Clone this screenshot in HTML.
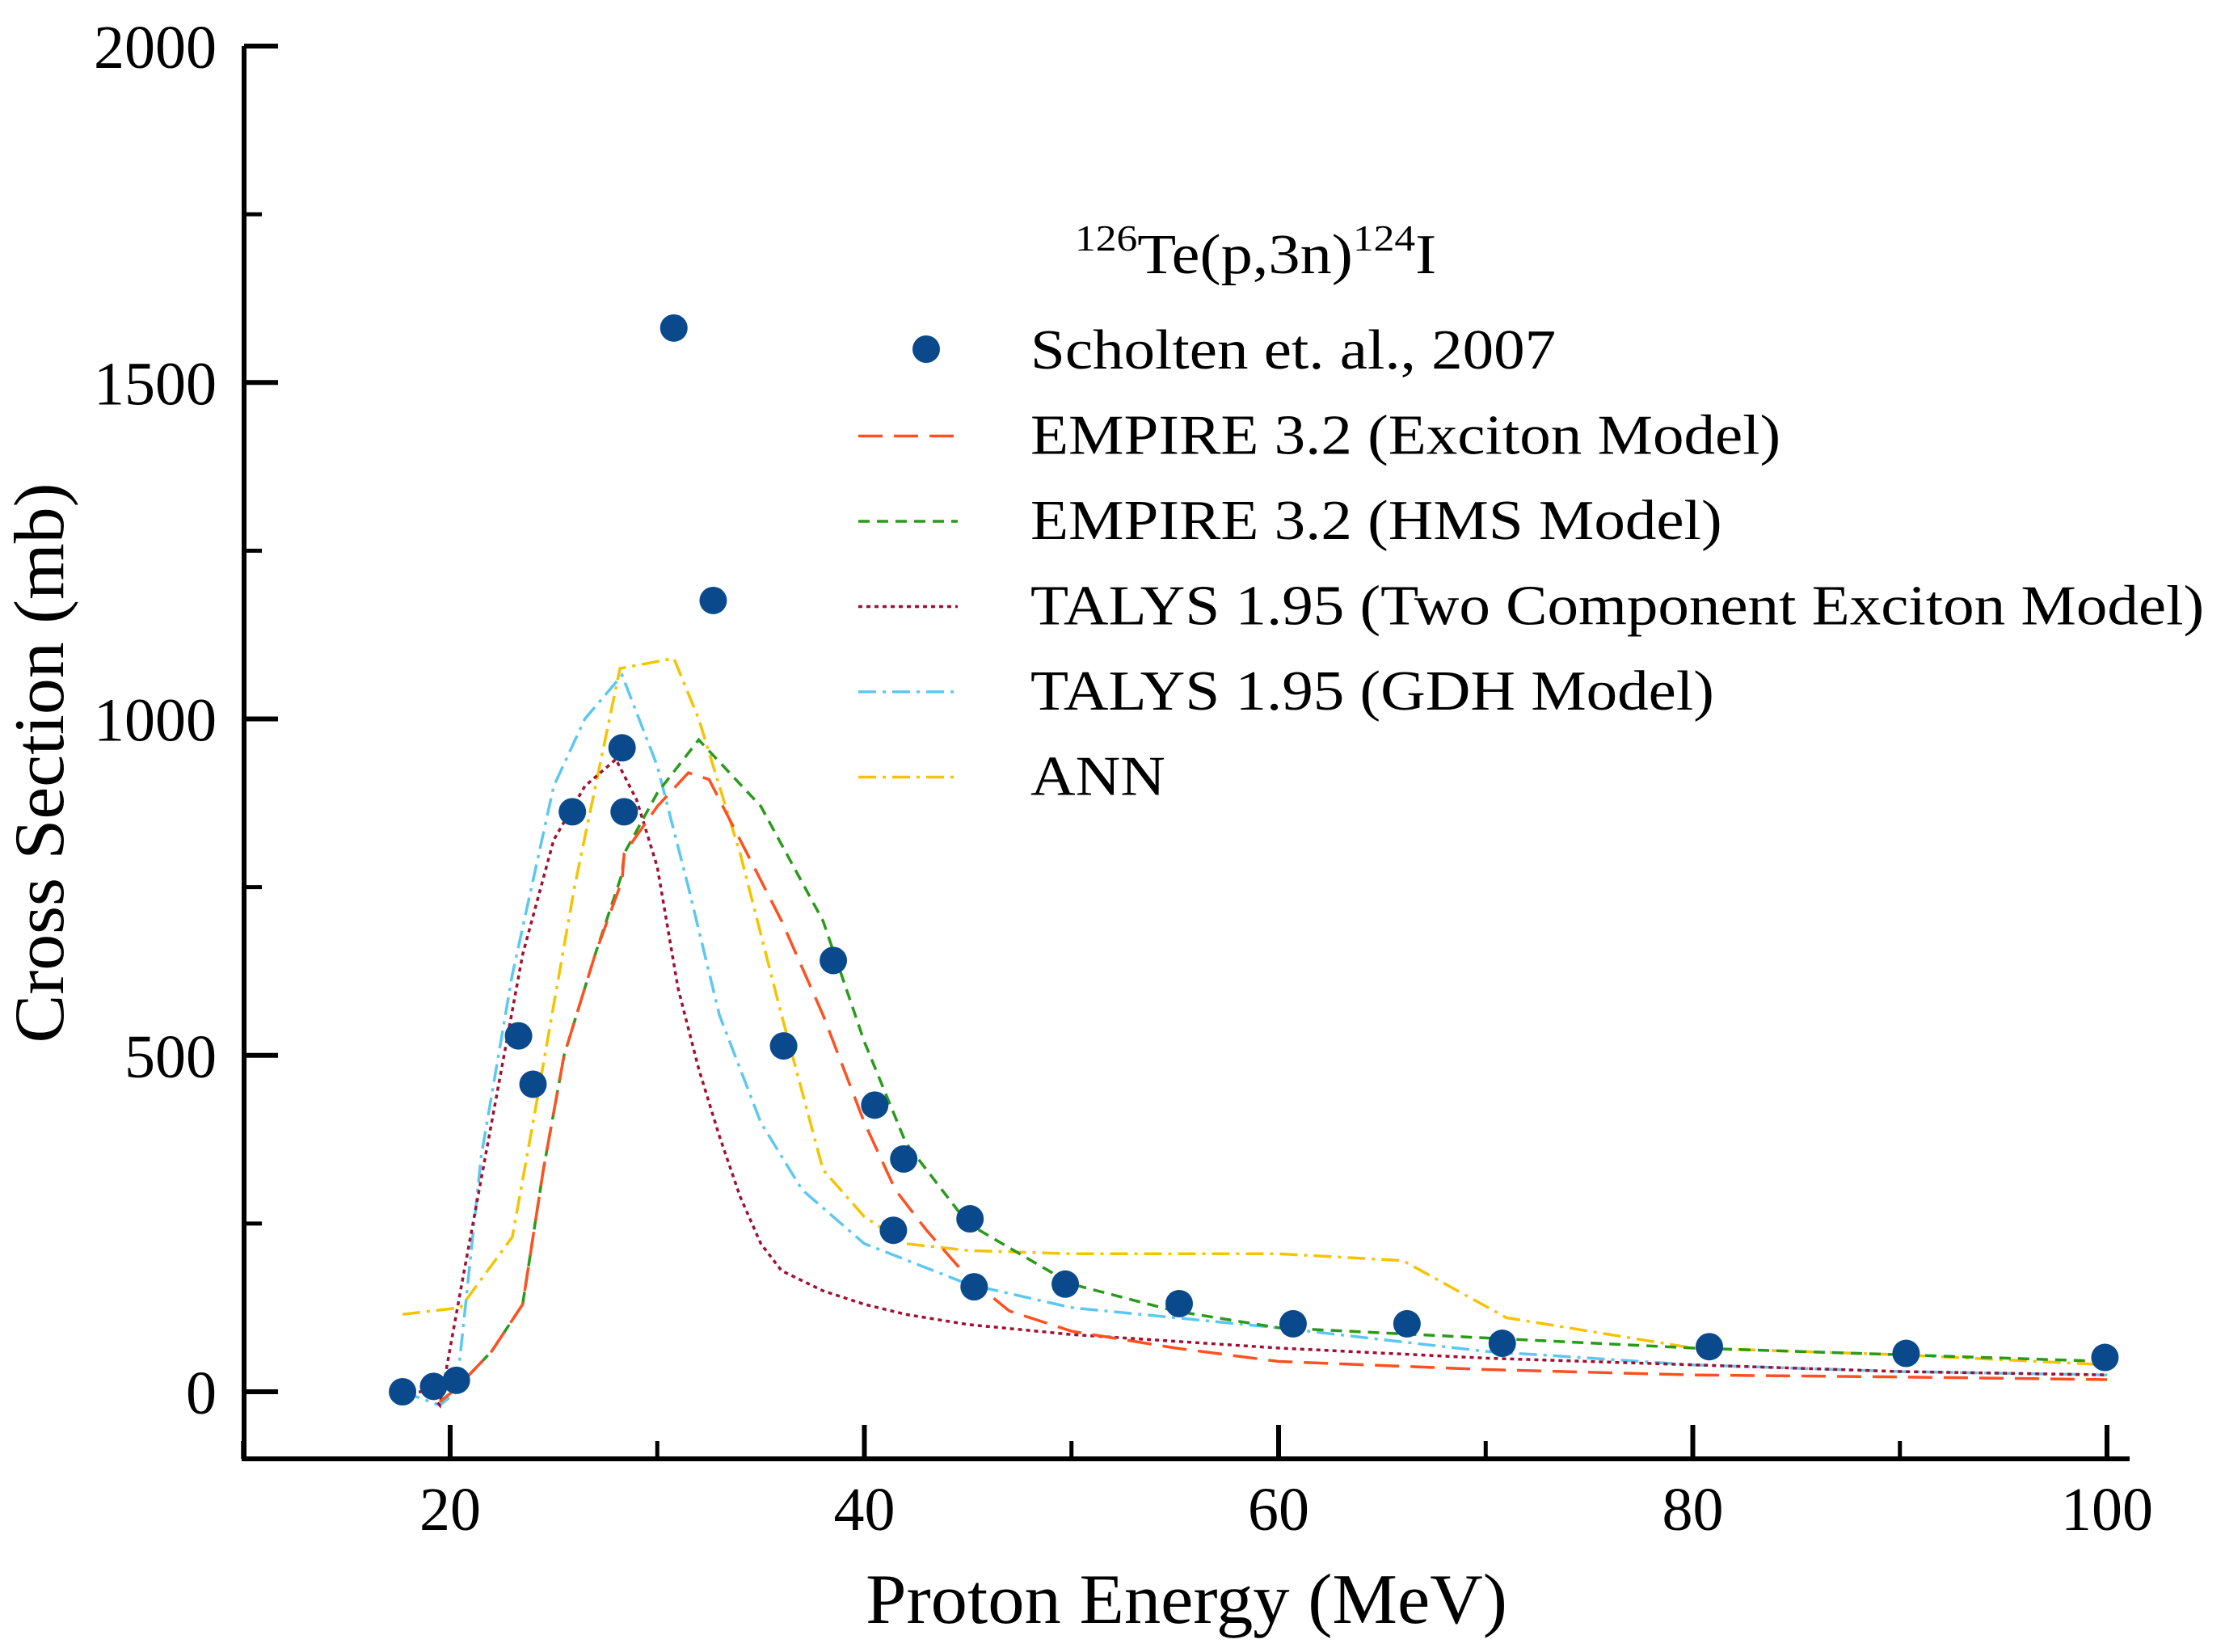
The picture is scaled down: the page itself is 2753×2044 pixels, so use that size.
<!DOCTYPE html>
<html><head><meta charset="utf-8"><style>
html,body{margin:0;padding:0;background:#fff}
svg{display:block;font-family:"Liberation Serif",serif}
</style></head><body>
<svg id="chart" width="2753" height="2044" viewBox="0 0 2753 2044" xmlns="http://www.w3.org/2000/svg">
<g id="axes"></g>
<g id="series"></g>
<g id="legend"></g>
<text id="xt" x="1468" y="2008" font-size="88" text-anchor="middle">Proton Energy (MeV)</text>
<text id="yt" transform="translate(78,944) rotate(-90)" font-size="88" text-anchor="middle">Cross Section (mb)</text>
</svg>
<script>
const xTicks=[20,40,60,80,100];
const xMinor=[10,30,50,70,90];
const yTicks=[0,500,1000,1500,2000];
const yMinor=[250,750,1250,1750];
const expE=[17.7,19.2,20.3,23.3,24.0,25.9,28.3,28.4,30.8,32.7,36.1,38.5,40.5,41.9,41.4,45.1,45.3,49.7,55.2,60.7,66.2,70.8,80.8,90.3,99.9];
const expY=[0,8,17,529,457,862,957,862,1581,1176,514,641,426,346,240,257,156,160,131,101,101,72,67,57,51];
const excE=[19.5,20.3,22,23.5,24.5,25.5,27,28.3,28.4,30,31.5,32.5,34,36,38,40,41.5,43,45,47,50,55,60,70,80,90,100];
const excY=[-15,5,60,130,330,500,650,760,800,870,920,910,820,700,560,400,300,240,170,120,90,65,45,33,25,22,18];
const hmsE=[19.5,20.3,22,23.5,24.5,25.5,27,28.3,28.4,30,32,35,38,40,42,45,50,55,60,70,80,90,100];
const hmsY=[-15,5,60,130,330,500,650,770,800,890,969,870,700,520,370,250,160,120,95,80,65,55,45];
const tceE=[17.7,19,19.5,20.5,22,23.5,25,26.5,28,29,30,31,32,33,34,35,36,38,40,42,45,50,60,70,80,90,100];
const tceY=[0,0,-20,150,400,650,820,900,940,880,780,600,480,380,290,220,180,150,130,115,100,85,65,50,40,30,25];
const gdhE=[17.7,19.5,20.3,21.5,23,25,26.5,28.3,30,31.5,33,35,37,40,45,50,60,70,80,90,100];
const gdhY=[0,-20,0,350,620,900,1000,1065,930,750,560,400,300,220,160,125,95,60,40,30,25];
const annE=[17.7,20.5,23,24,26,28.2,30.8,32,34,36,38,40,42,45,50,60,66,71,80,90,100];
const annY=[115,125,230,400,750,1075,1090,1000,800,560,330,260,220,210,205,205,195,110,65,55,40];

const NS="http://www.w3.org/2000/svg";
const X0=302,XR=2635,YB=1805;
function sx(e){return 557+(e-20)*(2607-557)/80;}
function sy(v){return 1722-v*(1722-57)/2000;}
function mk(tag,attrs,parent){const el=document.createElementNS(NS,tag);for(const k in attrs)el.setAttribute(k,attrs[k]);parent.appendChild(el);return el;}
function stretch(el,f){const w=el.getComputedTextLength();el.setAttribute('textLength',(w*f).toFixed(1));el.setAttribute('lengthAdjust','spacingAndGlyphs');}
const axes=document.getElementById('axes');
let a=mk('line',{x1:X0,y1:57,x2:X0,y2:YB+3,stroke:'#000','stroke-width':6},axes);


a=mk('line',{x1:X0-3,y1:YB,x2:XR,y2:YB,stroke:'#000','stroke-width':6},axes);


xTicks.forEach(t=>{const l=mk('line',{x1:sx(t),y1:YB,x2:sx(t),y2:YB-42,stroke:'#000','stroke-width':6},axes);


const tx=mk('text',{x:sx(t),y:1893,'font-size':76,'text-anchor':'middle'},axes);tx.textContent=t;

});
xMinor.forEach(t=>{const l=mk('line',{x1:sx(t),y1:YB,x2:sx(t),y2:YB-22,stroke:'#000','stroke-width':5},axes);

});
yTicks.forEach(t=>{const l=mk('line',{x1:X0,y1:sy(t),x2:X0+42,y2:sy(t),stroke:'#000','stroke-width':6},axes);


const tx=mk('text',{x:268,y:sy(t)+27,'font-size':76,'text-anchor':'end'},axes);tx.textContent=t;

});
yMinor.forEach(t=>{const l=mk('line',{x1:X0,y1:sy(t),x2:X0+22,y2:sy(t),stroke:'#000','stroke-width':5},axes);

});
stretch(document.getElementById('xt'),1.03);
stretch(document.getElementById('yt'),1.02);

const ser=document.getElementById('series');
const styles=[
 {E:annE,Y:annY,c:'#f5c400',d:'22 8 4 8',n:'ann-line',lab:'ANN'},
 {E:gdhE,Y:gdhY,c:'#5cc8f2',d:'22 8 4 8',n:'talys-gdh-line',lab:'TALYS 1.95 (GDH Model)'},
 {E:tceE,Y:tceY,c:'#a01030',d:'5 5',n:'talys-tce-line',lab:'TALYS 1.95 (Two Component Exciton Model)'},
 {E:hmsE,Y:hmsY,c:'#2a9a1a',d:'14 9',n:'empire-hms-line',lab:'EMPIRE 3.2 (HMS Model)'},
 {E:excE,Y:excY,c:'#ff5020',d:'30 14',n:'empire-exciton-line',lab:'EMPIRE 3.2 (Exciton Model)'}
];
styles.forEach(s=>{const p=s.E.map((e,i)=>sx(e).toFixed(1)+','+sy(s.Y[i]).toFixed(1)).join(' ');
const pl=mk('polyline',{points:p,fill:'none',stroke:s.c,'stroke-width':3.5,'stroke-dasharray':s.d},ser);

});
expE.forEach((e,i)=>{const c=mk('circle',{cx:sx(e),cy:sy(expY[i]),r:17,fill:'#0a4a8c'},ser);

});

const lg=document.getElementById('legend');
const tt=mk('text',{x:1330,y:338,'font-size':70},lg);
tt.innerHTML='<tspan font-size="46" dy="-28">126</tspan><tspan dy="28">Te(p,3n)</tspan><tspan font-size="46" dy="-28">124</tspan><tspan dy="28">I</tspan>';


stretch(tt,1.12);
const rows=[{lab:'Scholten et. al., 2007'}].concat(styles.slice().reverse());
rows.forEach((r,i)=>{const y=456+i*105.5;
if(i===0){const c=mk('circle',{cx:1146,cy:y-24,r:17,fill:'#0a4a8c'},lg);

}
else{const l=mk('line',{x1:1062,y1:y-22,x2:1185,y2:y-22,stroke:r.c,'stroke-width':3.5,'stroke-dasharray':r.d},lg);

}
const t=mk('text',{x:1275,y:y,'font-size':70},lg);t.textContent=r.lab;


stretch(t,1.1);});
</script>
</body></html>
